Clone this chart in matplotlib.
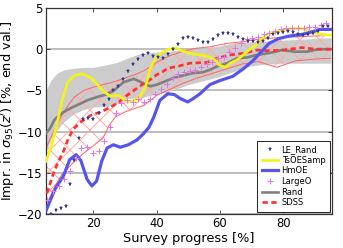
import numpy as np
import matplotlib
matplotlib.use("Agg")
import matplotlib.pyplot as plt

# --- data ---
le_rand_x = [6.6, 8.2, 9.8, 11.2, 12.6, 13.9, 15.3, 16.8, 18.4, 20.0, 21.6, 23.2, 24.8, 26.3,
             27.9, 29.4, 31.0, 32.5, 34.0, 35.6, 37.2, 38.8, 40.4, 42.0, 43.6, 45.2, 46.8, 48.3,
             49.9, 51.5, 53.0, 54.6, 56.2, 57.8, 59.4, 61.0, 62.5, 64.1, 65.7, 67.2, 68.8, 70.4,
             72.0, 73.6, 75.2, 76.8, 78.3, 79.9, 81.5, 83.1, 84.7, 86.3, 87.9, 89.4, 91.0, 92.6, 94.2]
le_rand_y = [-20.0, -19.5, -19.3, -19.0, -16.3, -13.4, -10.8, -8.5, -8.4, -8.5, -7.7, -6.8, -6.0, -5.0,
             -4.5, -3.6, -2.6, -1.8, -1.2, -0.7, -0.5, -0.8, -1.0, -1.1, -0.6, 0.0, 0.6, 1.4,
             1.5, 1.3, 1.1, 0.9, 0.9, 1.2, 1.7, 2.0, 2.0, 1.9, 1.5, 1.2, 1.0, 1.0,
             0.9, 1.0, 1.4, 1.9, 2.0, 2.1, 2.2, 2.1, 1.8, 1.7, 1.8, 2.0, 2.2, 2.8, 2.8]

tsoe_x = [5, 6.6, 8.5, 10.1, 11.7, 13.9, 16.4, 19.3, 21.2, 23.4, 25.3, 28, 30.5, 32.8, 35, 36.5,
          38, 40, 42, 44, 46, 48, 50.5, 53.7, 56.2, 58.4, 59.6, 61.6, 63.2, 65.4, 67.3, 69.5,
          71.7, 73.5, 76, 79.6, 83, 86, 89, 92, 95]
tsoe_y = [-13.6, -11.9, -9.0, -6.2, -4.1, -3.2, -3.0, -3.5, -4.3, -5.2, -5.7, -5.6, -6.4, -6.3, -5.6, -4.5,
          -2.2, -0.9, -0.3, 0.0, 0.15, -0.2, -0.5, -0.7, -0.9, -1.3, -1.9, -2.2, -1.7, -1.3, -0.7, 0.0,
          0.6, 1.4, 2.0, 2.3, 2.5, 2.5, 2.1, 1.8, 1.7]

hmoe_x = [5, 7.8, 10.5, 12.5, 14.5, 16, 18, 19.5, 21, 22.6, 24.3, 26.3, 28.5, 31, 33.8, 35.7, 37.5,
          39, 41, 43.5, 45.5, 47.5, 49.8, 51.5, 53.7, 56.8, 60, 64, 67.3, 70.4, 72.6, 75.5, 78.6,
          82, 86, 89, 91.5, 95]
hmoe_y = [-19.6, -17, -15.4, -13.4, -12.8, -13.5, -15.8, -16.6, -16.0, -13.6, -12.0, -11.6, -11.9,
          -11.6, -11.0, -10.3, -9.5, -8.3, -6.2, -5.4, -5.5, -6.0, -6.4, -6.0, -5.4, -4.3, -3.8,
          -3.3, -2.4, -1.4, -0.5, 0.7, 1.3, 1.6, 1.8, 2.1, 2.4, 2.4]

large_x = [5.4, 7.2, 9.0, 10.8, 12.6, 14.4, 16.2, 18.0, 19.8, 21.6, 23.4, 25.2, 27.0, 28.8, 30.6,
           32.4, 34.2, 36.0, 37.8, 39.6, 41.4, 43.2, 45.0, 46.8, 48.6, 50.4, 52.2, 54.0, 55.8,
           57.6, 59.4, 61.2, 63.0, 64.8, 66.6, 68.4, 70.2, 72.0, 73.8, 75.6, 77.4, 79.2, 81.0,
           82.8, 84.6, 86.4, 88.2, 90.0, 91.8, 93.6]
large_y = [-18.3, -17.2, -16.6, -15.7, -14.8, -13.2, -12.0, -11.9, -12.6, -12.3, -11.2, -9.5, -7.8,
           -6.5, -6.2, -6.4, -6.0, -6.4, -6.0, -5.4, -4.8, -4.2, -3.5, -3.0, -2.8, -2.7, -2.5,
           -2.2, -1.8, -1.5, -1.1, -0.9, -0.4, 0.2, 0.7, 1.2, 1.3, 1.5, 1.8, 2.0, 2.2, 2.5, 2.6,
           2.6, 2.6, 2.6, 2.7, 2.7, 2.9, 3.2]

rand_x = [5, 6.3, 7.6, 9, 10.7, 12.5, 14.8, 18, 21.2, 24, 26.5, 29.5, 32.8, 35, 37.9, 40.1, 42,
          45.2, 48.3, 51.5, 54.6, 56.8, 59, 62.2, 65.4, 68.5, 71.7, 76.4, 79.6, 83.7, 87.5, 91, 95]
rand_y = [-10.2, -9.6, -8.6, -8.1, -7.6, -7.2, -6.8, -6.2, -5.8, -5.5, -5.0, -4.0, -3.6, -4.0, -4.5,
          -4.3, -4.0, -3.5, -3.2, -2.9, -2.8, -2.5, -2.1, -1.7, -1.1, -1.0, -0.7, -0.4, -0.1,
          -0.3, -0.3, 0.0, 0.0]
rand_band_x = [5, 6.5, 8.5, 10.7, 14, 17, 20, 24, 27.5, 30.6, 35, 38, 42, 45, 50, 55, 60, 65,
               70, 75, 80, 85, 90, 95]
rand_hi = [-5.0, -3.8, -2.9, -2.5, -2.3, -2.2, -2.2, -1.9, -1.6, -1.1, -0.5, -0.4, -0.3, -0.2,
           0.0, 0.1, 0.4, 0.8, 0.9, 1.0, 1.1, 1.2, 1.3, 1.4]
rand_lo = [-12.5, -11.0, -9.8, -8.8, -7.8, -7.3, -7.0, -7.0, -6.6, -6.0, -5.9, -5.6, -5.3, -5.0,
           -4.3, -3.8, -3.3, -2.6, -2.0, -1.8, -1.7, -1.7, -1.7, -1.7]

sdss_x = [5.3, 7.3, 8.8, 10.4, 12, 13.6, 16.1, 19.3, 22.4, 25.6, 28.1, 30.6, 32.8, 35, 37.9, 40,
          42, 43.5, 46.4, 50.5, 55.9, 59, 63.2, 67.3, 71.7, 76, 80, 86, 90, 95]
sdss_y = [-17.5, -15.1, -13.7, -12.5, -10.9, -9.7, -8.8, -8.0, -7.6, -7.0, -6.4, -5.6, -5.0, -4.4,
          -3.7, -3.1, -2.7, -2.3, -2.1, -1.7, -1.6, -1.1, -0.7, -0.5, -0.1, -0.2, -0.1, 0.2, 0.0, 0.0]
sdss_band_x = [5, 8, 10, 12, 14, 17, 20, 23, 25, 27, 30, 33, 36, 40, 44, 48, 52, 57, 62, 67, 72,
               78, 84, 90, 95]
sdss_hi = [-12.0, -9.5, -8.0, -6.8, -5.8, -5.0, -4.6, -4.3, -4.1, -3.9, -3.5, -3.1, -2.6, -1.6,
           -0.8, -0.3, 0.1, 0.3, 0.7, 0.9, 1.2, 1.4, 1.5, 1.6, 1.7]
sdss_lo = [-19.0, -16.5, -15.2, -14.4, -13.6, -12.6, -11.7, -10.8, -9.2, -8.2, -7.6, -7.2, -6.8,
           -5.6, -4.9, -4.2, -3.6, -3.0, -2.4, -1.8, -1.5, -2.2, -1.4, -1.2, -1.1]

DPI = 60
plt.rcParams['hatch.color'] = '#ffaaaa'
plt.rcParams['hatch.linewidth'] = 1.2

fig = plt.figure(figsize=(343 / DPI, 248 / DPI), dpi=DPI)
ax = fig.add_axes([46 / 343, 34 / 248, 286 / 343, 206 / 248])

# bands
ax.fill_between(rand_band_x, rand_lo, rand_hi, color='#cccccc', lw=0, zorder=1)
ax.fill_between(sdss_band_x, sdss_lo, sdss_hi, facecolor='none', edgecolor='#ffaaaa',
                hatch='x', lw=0, zorder=2)
ax.plot(sdss_band_x, sdss_hi, color='#ff6666', lw=1.2, zorder=2)
ax.plot(sdss_band_x, sdss_lo, color='#ff6666', lw=1.2, zorder=2)

# series
ax.plot(rand_x, rand_y, color='#808080', lw=3.2, label='Rand', zorder=3)
ax.plot(sdss_x, sdss_y, color='#ff3030', lw=3.2, dashes=(2, 1.3), label='SDSS', zorder=4)
ax.plot(tsoe_x, tsoe_y, color='#f4f414', lw=3.2, label='TsOESamp', zorder=5)
ax.plot(hmoe_x, hmoe_y, color='#5555ee', lw=3.8, label='HmOE', zorder=6)
ax.plot(large_x, large_y, '+', color='#dd77ee', ms=6.5, mew=1.2, label='LargeO', zorder=7)
ax.plot(le_rand_x, le_rand_y, '*', color='#3a3a8c', ms=6, mew=0, label='LE_Rand', zorder=8)

ax.set_xlim(5, 95.4)
ax.set_ylim(-20, 5)
ax.set_xticks([20, 40, 60, 80])
ax.set_yticks([-20, -15, -10, -5, 0, 5])
ax.tick_params(labelsize=14, direction='in', length=5, top=True, right=True, pad=4)
ax.yaxis.grid(True, color='#aaaaaa', lw=1.8)
ax.set_axisbelow(True)
for s in ax.spines.values():
    s.set_color('#333333')
    s.set_linewidth(1.5)

ax.set_xlabel('Survey progress [%]', fontsize=15.5, labelpad=2)
ax.set_ylabel(r"Impr. in $\sigma_{95}(z^\prime)$ [%, end val.]", fontsize=15.5)
ax.yaxis.set_label_coords(-0.10, 0.5)

h, l = ax.get_legend_handles_labels()
order = ['LE_Rand', 'TsOESamp', 'HmOE', 'LargeO', 'Rand', 'SDSS']
hh = [h[l.index(o)] for o in order]
leg = ax.legend(hh, order, loc='lower right', fontsize=10, fancybox=False, framealpha=1,
                edgecolor='black', borderaxespad=0.3, labelspacing=0.2, handlelength=2.0,
                handletextpad=0.4, borderpad=0.5, numpoints=1)
leg.get_frame().set_linewidth(1.0)

fig.savefig('out.png', dpi=DPI)
